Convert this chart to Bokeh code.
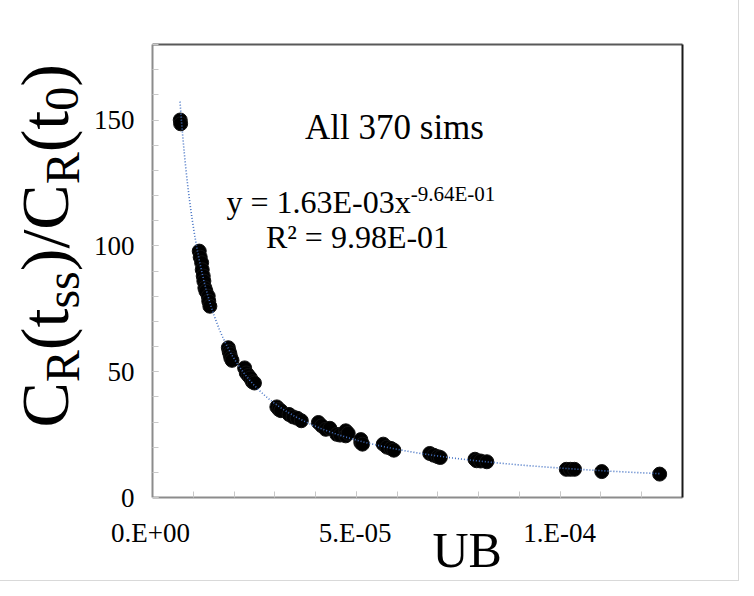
import numpy as np
from bokeh.plotting import figure
from bokeh.layouts import row, column
from bokeh.models import (Range1d, FixedTicker, Label, ColumnDataSource, LinearAxis,
                          CustomJSTickFormatter)
from bokeh.embed import file_html
from bokeh.resources import INLINE

# ---------------- data ----------------
ub = [6.8e-6, 6.9e-6,
      1.146e-5, 1.17e-5, 1.205e-5, 1.22e-5, 1.244e-5, 1.26e-5, 1.285e-5, 1.31e-5, 1.366e-5, 1.38e-5, 1.407e-5,
      1.86e-5, 1.88e-5, 1.90e-5, 1.92e-5, 1.95e-5,
      2.26e-5, 2.30e-5, 2.35e-5, 2.40e-5, 2.45e-5, 2.50e-5,
      3.05e-5, 3.10e-5, 3.15e-5,
      3.35e-5, 3.45e-5, 3.55e-5, 3.65e-5,
      4.07e-5, 4.15e-5, 4.25e-5, 4.35e-5,
      4.52e-5, 4.60e-5, 4.74e-5, 4.74e-5, 4.80e-5,
      5.11e-5, 5.11e-5, 5.15e-5,
      5.66e-5, 5.75e-5, 5.85e-5, 5.92e-5,
      6.80e-5, 6.90e-5, 7.00e-5, 7.06e-5,
      7.91e-5, 7.95e-5, 8.05e-5, 8.20e-5,
      1.015e-4, 1.025e-4, 1.035e-4,
      1.102e-4,
      1.244e-4]
ratio = [150.0, 148.5,
         97.9, 95.5, 93.3, 90.5, 88.0, 86.0, 83.3, 82.0, 80.0, 78.0, 76.0,
         59.5, 58.0, 57.0, 55.5, 54.5,
         51.5, 49.5, 48.5, 47.5, 46.0, 45.5,
         36.0, 35.0, 34.5,
         33.0, 32.0, 31.5, 30.5,
         29.8, 28.5, 27.1, 27.5,
         25.1, 24.8, 26.5, 24.5, 25.5,
         21.8, 23.0, 21.2,
         21.2, 20.0, 19.5, 18.8,
         17.5, 16.8, 16.2, 15.9,
         15.2, 14.6, 14.5, 14.2,
         11.2, 11.2, 11.2,
         10.3,
         9.3]

x_major = [0.0, 5e-5, 1e-4]
x_major_labels = ["0.E+00", "5.E-05", "1.E-04"]
x_minor = [0.0, 1e-5, 2e-5, 3e-5, 4e-5, 5e-5, 6e-5, 7e-5, 8e-5, 9e-5,
           1e-4, 1.1e-4, 1.2e-4, 1.3e-4]
y_major = [0, 50, 100, 150]
y_minor = [0, 10, 20, 30, 40, 50, 60, 70, 80, 90, 100, 110, 120, 130, 140, 150, 160, 170, 180]
x_lim = (0.0, 1.3e-4)
y_lim = (0, 180)

# power trendline shown on the chart: y = a * x^b
fit_a = 1.63e-3
fit_b = -0.964
fit_x_start = 6.75e-6
fit_x_end = 1.244e-4

title_text = "All 370 sims"
eq_main = "y = 1.63E-03x"
eq_sup = "-9.64E-01"
r2_text = "R² = 9.98E-01"
x_label = "UB"
y_label_parts = [("C", "big"), ("R", "sub"), ("(t", "big"), ("ss", "sub"),
                 (")/C", "big"), ("R", "sub"), ("(t", "big"), ("0", "sub"), (")", "big")]

# ---------------- layout geometry (page pixels; page has an 8px margin) ----------------
FONT = "Liberation Serif"
M = 8
TOT_W, TOT_H = 738, 580
LEFT_W = 90                    # y-title strip
FRAME_L, FRAME_R = 158, 690    # page x of plot frame
FRAME_T, FRAME_B = 52, 505     # page y of plot frame
ROW_BOTTOM = 522               # page y where the upper row ends
TOP_H = ROW_BOTTOM - M
BOT_H = TOT_H - TOP_H
DESC = 0.21                    # baseline correction (fraction of font size)
TICK_FS = 27


def bare_figure(width, height):
    fig = figure(width=width, height=height, x_range=Range1d(0, 1), y_range=Range1d(0, 1),
                 output_backend="svg", toolbar_location=None, min_border=0, title=None,
                 x_axis_location=None, y_axis_location=None)
    fig.grid.visible = False
    fig.outline_line_color = None
    fig.background_fill_color = None
    fig.border_fill_color = None
    return fig


def lab(fig, x, y, text, size, align="left", angle=0.0):
    fig.add_layout(Label(x=x, y=y, x_units="screen", y_units="screen", text=text, angle=angle,
                         text_align=align, text_baseline="alphabetic", text_font=FONT,
                         text_font_size=f"{size}px", text_color="black"))


# ---------------- main plot ----------------
p = figure(width=TOT_W - LEFT_W, height=TOP_H, x_range=Range1d(*x_lim), y_range=Range1d(*y_lim),
           output_backend="svg", toolbar_location=None,
           min_border_left=FRAME_L - M - LEFT_W, min_border_right=TOT_W + M - FRAME_R,
           min_border_top=FRAME_T - M, min_border_bottom=ROW_BOTTOM - FRAME_B)
p.grid.visible = False
p.outline_line_color = None

for ax in (p.xaxis[0], p.yaxis[0]):
    ax.axis_line_color = "#8c8c8c"
    ax.axis_line_width = 2
    ax.major_tick_in = 6
    ax.major_tick_out = 0
    ax.minor_tick_in = 6
    ax.minor_tick_out = 0
    ax.major_tick_line_color = "#c8c8c8"
    ax.minor_tick_line_color = "#c8c8c8"
    ax.major_label_text_font = FONT
    ax.major_label_text_color = "black"

p.xaxis.ticker = FixedTicker(ticks=x_major, minor_ticks=x_minor)
p.yaxis.ticker = FixedTicker(ticks=y_major, minor_ticks=y_minor)
p.xaxis.formatter = CustomJSTickFormatter(code="return '';")
p.xaxis.major_label_standoff = 0
p.yaxis.major_label_text_font_size = f"{TICK_FS}px"
p.yaxis.major_label_standoff = 18

top_axis = LinearAxis(ticker=FixedTicker(ticks=[]), axis_line_color="#595959", axis_line_width=2,
                      major_tick_line_color=None, minor_tick_line_color=None)
right_axis = LinearAxis(ticker=FixedTicker(ticks=[]), axis_line_color="#1a1a1a", axis_line_width=2,
                        major_tick_line_color=None, minor_tick_line_color=None)
p.add_layout(top_axis, "above")
p.add_layout(right_axis, "right")

src = ColumnDataSource(dict(ub=ub, ratio=ratio))
p.scatter(x="ub", y="ratio", source=src, size=14, fill_color="black", line_color="#111111")

fx = np.geomspace(fit_x_start, fit_x_end, 400)
fy = fit_a * fx ** fit_b
p.line(fx, fy, line_color="#4472C4", line_width=1.6, line_dash="1 2")


def fx_(px):
    return px - FRAME_L


def fy_(py, size):
    return FRAME_B - py + DESC * size


TS = 35
lab(p, fx_(400), fy_(142, TS), title_text, TS, "center")
EQ, EQS = 32, 21
main_w = (0.5 + 0.25 + 0.564 + 0.25 + 0.5 + 0.25 + 0.5 + 0.5 + 0.611 + 0.333 + 0.5 + 0.5 + 0.5) * EQ
lab(p, fx_(232), fy_(216, EQ), eq_main, EQ)
lab(p, fx_(232) + main_w, fy_(206, EQS), eq_sup, EQS)
lab(p, fx_(363), fy_(251, EQ), r2_text, EQ, "center")

# ---------------- left strip: rotated y title ----------------
ylab = bare_figure(LEFT_W, TOP_H)
adv = {"C": 0.667, "R": 0.667, "(": 0.333, ")": 0.333, "t": 0.278, "/": 0.278, "s": 0.389, "0": 0.5}
BIG, SUB = 68, 48
base_big_x, base_sub_x = 67, 80   # page x of the baselines
cur = 452.0                       # page y of the bottom end of the title
for txt, kind in y_label_parts:
    fs = BIG if kind == "big" else SUB
    bx = base_big_x if kind == "big" else base_sub_x
    lab(ylab, bx - M - DESC * fs, TOP_H - (cur - M), txt, fs, "left", np.pi / 2)
    cur -= sum(adv[c] for c in txt) * fs

# ---------------- bottom strip: x tick labels and x title ----------------
px_per_unit = (FRAME_R - FRAME_L) / (x_lim[1] - x_lim[0])
xb = bare_figure(TOT_W, BOT_H)
for tv, tl in zip(x_major, x_major_labels):
    sxp = FRAME_L + (tv - x_lim[0]) * px_per_unit
    lab(xb, sxp - M, (TOT_H + M - 546) + DESC * TICK_FS, tl, TICK_FS, "center")
XL = 50
lab(xb, 440 - M, (TOT_H + M - 568) + DESC * XL, x_label, XL)

layout = column(row(ylab, p), xb)
layout.styles = {"outline": "1px solid #d9d9d9", "outline-offset": "0px"}

open("out.html", "w").write(file_html(layout, INLINE))
